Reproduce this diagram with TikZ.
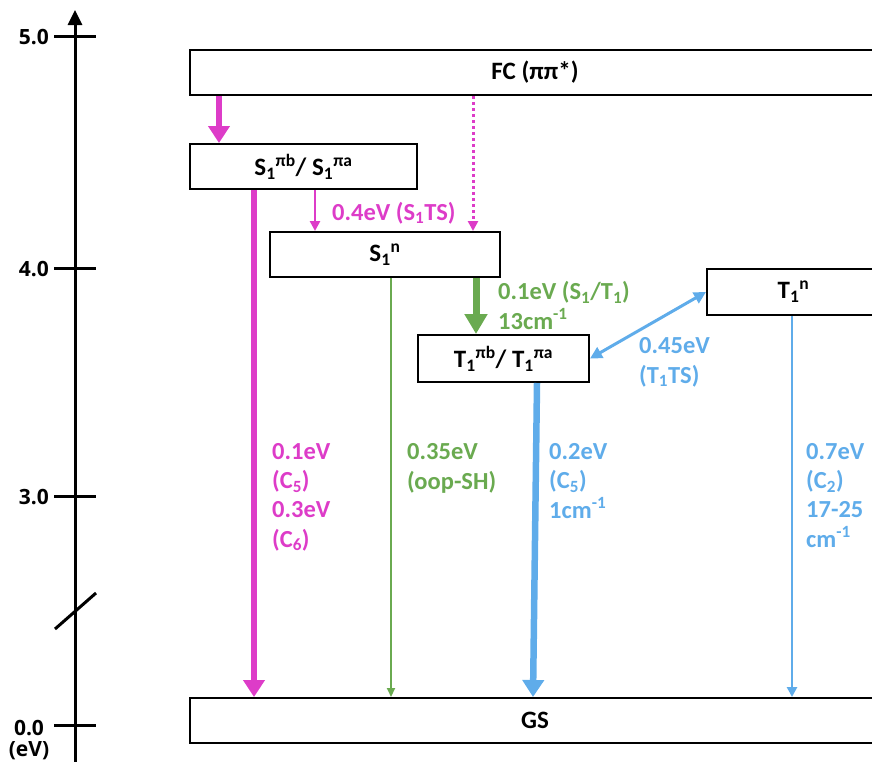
\documentclass[tikz,border=0pt]{standalone}
\usepackage{fontspec}
\setmainfont{Carlito}
\newfontfamily\axisfont{Open Sans}
\usetikzlibrary{arrows.meta}
\definecolor{mag}{RGB}{221,60,200}
\definecolor{grn}{RGB}{106,170,80}
\definecolor{blu}{RGB}{95,172,234}
\newcommand\sbs[1]{\textsubscript{#1}}
\newcommand\sps[1]{\textsuperscript{#1}}
\begin{document}
\begin{tikzpicture}[x=1pt,y=-1pt,
  lvl/.style={draw, line width=2pt, fill=white, inner sep=0pt, font=\bfseries\fontsize{25}{30}\selectfont},
  lab/.style={font=\bfseries\fontsize{24.5}{29.3}\selectfont, anchor=base west, align=left, inner sep=0pt},
  axlab/.style={font=\axisfont\bfseries\fontsize{21}{24}\selectfont, inner sep=0pt, align=center},
  thick arr/.style={line width=6.5pt, -{Triangle[width=21pt,length=17pt]}},
  thin arr/.style={line width=2.5pt, -{Triangle[width=10pt,length=10pt]}},
  hair arr/.style={line width=2pt, -{Triangle[width=8pt,length=9pt]}},
  axis/.style={line width=3pt}]
\clip (0,0) rectangle (872,761);
\useasboundingbox (0,0) rectangle (872,761);

% axis
\coordinate (axtop) at (75,10);
\coordinate (axbot) at (75,770);
\draw[axis, -{Triangle[width=14pt,length=15pt]}] (axbot) -- (axtop);
\foreach \yy/\nm in {36/a, 268/b, 496/c, 725/d}{
  \coordinate (tl\nm) at (54,\yy);
  \coordinate (tr\nm) at (96,\yy);
  \draw[axis] (tl\nm) -- (tr\nm);
}
\coordinate (brA) at (55,629);
\coordinate (brB) at (96,593);
\draw[axis] (brA) -- (brB);
\node[axlab, anchor=east] (l5) at (49,37) {5.0};
\node[axlab, anchor=east] (l4) at (49,269) {4.0};
\node[axlab, anchor=east] (l3) at (49,497) {3.0};
\node[axlab, anchor=north] (l0) at (29,720) {0.0\\[-3pt](eV)};

% levels
\node[lvl, minimum width=690pt, minimum height=45pt] (FC) at (535,72.5) {FC (ππ*)};
\node[lvl, minimum width=227pt, minimum height=45pt] (S1pi) at (303.5,166.5) {S\sbs{1}\sps{πb}/ S\sbs{1}\sps{πa}};
\node[lvl, minimum width=230pt, minimum height=45pt] (S1n) at (385,254.5) {S\sbs{1}\sps{n}};
\node[lvl, minimum width=171pt, minimum height=47pt] (T1pi) at (503.5,358.5) {T\sbs{1}\sps{πb}/ T\sbs{1}\sps{πa}};
\node[lvl, minimum width=173pt, minimum height=46pt] (T1n) at (793.5,292) {T\sbs{1}\sps{n}};
\node[lvl, minimum width=690pt, minimum height=45pt] (GS) at (535,720.5) {GS};

% columns
\coordinate (c1) at (219,0);
\coordinate (c2) at (473,0);
\coordinate (c3) at (315,0);
\coordinate (c4) at (254,0);
\coordinate (c5) at (391,0);
\coordinate (c6) at (476,0);
\coordinate (c7a) at (537,0);
\coordinate (c7b) at (533,0);
\coordinate (c8) at (792,0);

% connectors
\draw[mag, thick arr] (FC.south -| c1) -- (S1pi.north -| c1);
\draw[mag, line width=3pt, dash pattern=on 3pt off 3pt, -{Triangle[width=10pt,length=10pt]}] (FC.south -| c2) -- (S1n.north -| c2);
\draw[mag, thin arr] (S1pi.south -| c3) -- (S1n.north -| c3);
\draw[mag, thick arr] (S1pi.south -| c4) -- (GS.north -| c4);
\draw[grn, hair arr] (S1n.south -| c5) -- (GS.north -| c5);
\draw[grn, line width=7pt, -{Triangle[width=22pt,length=20pt]}] (S1n.south -| c6) -- (T1pi.north -| c6);
\draw[blu, thick arr] (T1pi.south -| c7a) -- (GS.north -| c7b);
\draw[blu, thin arr] (T1n.south -| c8) -- (GS.north -| c8);
\draw[blu, line width=3pt, {Triangle[width=12pt,length=12pt]}-{Triangle[width=12pt,length=12pt]}] (T1pi.east) -- (T1n.west);

% labels (anchor = baseline of last line)
\node[lab, text=mag] (L1) at (332,220) {0.4eV (S\sbs{1}TS)};
\node[lab, text=grn] (L2) at (498,329) {0.1eV (S\sbs{1}/T\sbs{1})\\13cm\sps{-1}};
\node[lab, text=blu] (L3) at (639,383) {0.45eV\\(T\sbs{1}TS)};
\node[lab, text=mag] (L4) at (272,547) {0.1eV\\(C\sbs{5})\\0.3eV\\(C\sbs{6})};
\node[lab, text=grn] (L5) at (407,489) {0.35eV\\(oop-SH)};
\node[lab, text=blu] (L6) at (549,518) {0.2eV\\(C\sbs{5})\\1cm\sps{-1}};
\node[lab, text=blu] (L7) at (806,547) {0.7eV\\(C\sbs{2})\\17-25\\cm\sps{-1}};
\end{tikzpicture}
\end{document}
